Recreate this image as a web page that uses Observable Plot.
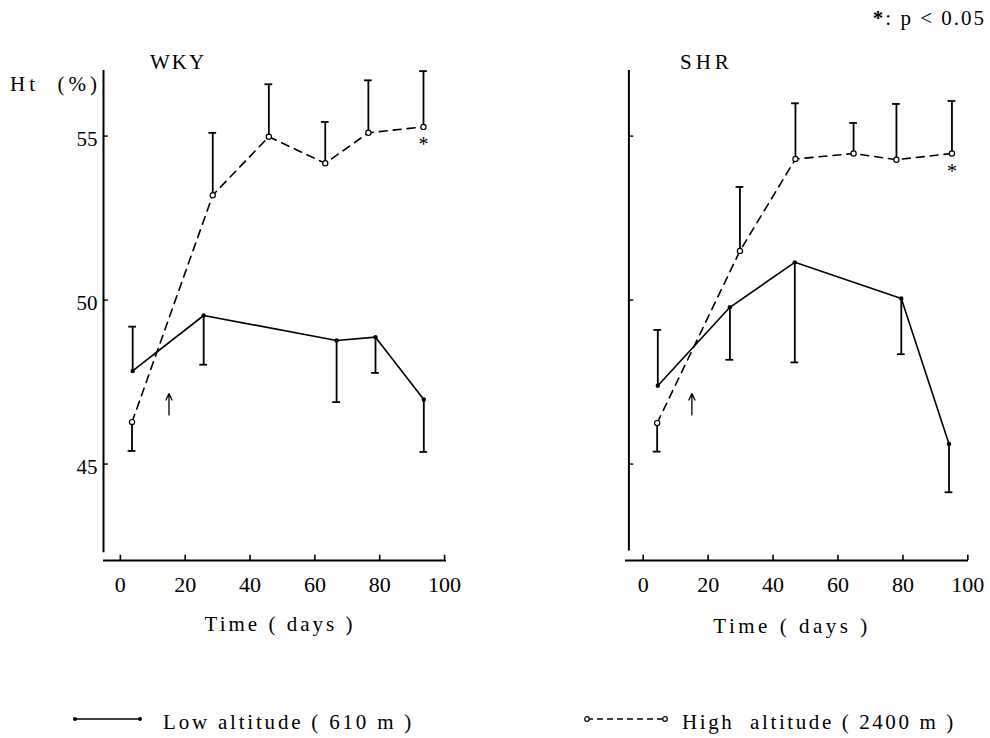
<!DOCTYPE html>
<html>
<head>
<meta charset="utf-8">
<script src="https://cdn.jsdelivr.net/npm/d3@7"></script>
<script src="https://cdn.jsdelivr.net/npm/@observablehq/plot@0.6"></script>
<style>
  html, body { margin: 0; padding: 0; background: #fff; }
  #root { position: relative; width: 990px; height: 738px; background: #fff; font-family: "Liberation Serif", "DejaVu Serif", serif; color: #000; overflow: hidden; }
  .abs { position: absolute; white-space: pre; line-height: 24px; }
  .panel { position: absolute; top: 0; }
  .sw { position: absolute; }
</style>
</head>
<body>
<div id="root">
  <div class="abs" style="right:4px; top:6px; font-size:21px; letter-spacing:2px;"><b>*</b>: p &lt; 0.05</div>
  <div class="abs" style="left:10px; top:72px; font-size:21px; letter-spacing:4px;">Ht  (%)</div>
  <div class="abs" style="left:150px; top:50px; font-size:21px; letter-spacing:2px;">WKY</div>
  <div class="abs" style="left:680px; top:50px; font-size:21px; letter-spacing:4px;">SHR</div>
  <div id="left" class="panel" style="left:0px;"></div>
  <div id="right" class="panel" style="left:520px;"></div>
  <div class="abs" style="left:280px; top:612px; transform:translateX(-50%); font-size:21px; letter-spacing:3px;">Time ( days )</div>
  <div class="abs" style="left:792px; top:614px; transform:translateX(-50%); font-size:21px; letter-spacing:3.5px;">Time ( days )</div>
  <svg class="sw" style="left:70px; top:713px;" width="76" height="12"><line x1="5" y1="6" x2="70" y2="6" stroke="#000" stroke-width="1.4"/><circle cx="5" cy="6" r="2" fill="#000"/><circle cx="70" cy="6" r="2" fill="#000"/></svg>
  <div class="abs" style="left:163px; top:710px; font-size:21px; letter-spacing:2.8px;">Low altitude ( 610 m )</div>
  <svg class="sw" style="left:582px; top:713px;" width="88" height="12"><line x1="5" y1="6" x2="83" y2="6" stroke="#000" stroke-width="1.4" stroke-dasharray="6,4"/><circle cx="5" cy="6" r="2.3" fill="#fff" stroke="#000" stroke-width="1.2"/><circle cx="83" cy="6" r="2.3" fill="#fff" stroke="#000" stroke-width="1.2"/></svg>
  <div class="abs" style="left:682px; top:710px; font-size:21px; letter-spacing:2.6px;">High  altitude ( 2400 m )</div>
</div>
<script>
// ---------- data ----------
const xTicks = [0, 20, 40, 60, 80, 100];
const yTicks = [45, 50, 55];

// WKY, low altitude (610 m)
const wkyLowDay  = [3.8, 25.7, 66.7, 78.7, 93.6];
const wkyLowHt   = [47.84, 49.53, 48.77, 48.87, 46.97];
const wkyLowSD   = [1.35, 1.50, 1.88, 1.09, 1.60];
const wkyLowDir  = [1, -1, -1, -1, -1];

// WKY, high altitude (2400 m)
const wkyHighDay = [3.6, 28.5, 45.8, 63.2, 76.5, 93.5];
const wkyHighHt  = [46.28, 53.20, 54.98, 54.17, 55.10, 55.28];
const wkyHighSD  = [0.88, 1.90, 1.60, 1.26, 1.60, 1.70];
const wkyHighDir = [-1, 1, 1, 1, 1, 1];
const wkyHighSig = [false, false, false, false, false, true];

// SHR, low altitude (610 m)
const shrLowDay  = [4.5, 26.7, 46.7, 79.5, 94.2];
const shrLowHt   = [47.39, 49.78, 51.15, 50.05, 45.61];
const shrLowSD   = [1.70, 1.60, 3.05, 1.70, 1.47];
const shrLowDir  = [1, -1, -1, -1, -1];

// SHR, high altitude (2400 m)
const shrHighDay = [4.3, 29.8, 46.9, 64.8, 78.0, 95.1];
const shrHighHt  = [46.25, 51.50, 54.30, 54.47, 54.28, 54.47];
const shrHighSD  = [0.87, 1.95, 1.70, 0.93, 1.70, 1.60];
const shrHighDir = [-1, 1, 1, 1, 1, 1];
const shrHighSig = [false, false, false, false, false, true];

// arrow: start of exposure
const arrowDay = [15];
const arrowFrom = 46.5, arrowTo = 47.15;

// ---------- build ----------
function rows(day, ht, sd, dir, sig) {
  return day.map((d, i) => ({day: d, ht: ht[i], sd: sd[i], dir: dir[i], sig: sig ? sig[i] : false}));
}

const Y_LO = 42.06, Y_HI = 57;
const FONT = "Liberation Serif";

function panel({low, high, xDomain, marginLeft, marginRight, yAxisAt, yAxisBottom, showYLabels}) {
  const axisLen = 1.5;
  const cap = 1.2;
  const marks = [
    Plot.ruleX([yAxisAt], {y1: yAxisBottom, y2: Y_HI, strokeWidth: 2}),
    Plot.ruleY([Y_LO], {x1: xDomain[0], x2: xDomain[1], strokeWidth: 2}),
    Plot.ruleY(yTicks, {y: d => d, x1: yAxisAt, x2: yAxisAt + axisLen, strokeWidth: 1.4}),
    Plot.ruleX(xTicks, {x: d => d, y1: Y_LO, y2: Y_LO + 0.16, strokeWidth: 1.6}),
    Plot.axisX({ticks: xTicks, tickSize: 0, tickPadding: 16, label: null, fontSize: 22, fontFamily: FONT}),
  ];
  if (showYLabels) {
    marks.push(Plot.axisY({ticks: yTicks, tickSize: 0, tickPadding: 6, label: null, fontSize: 21, fontFamily: FONT, dy: 3}));
  }
  for (const [data, dashed] of [[low, false], [high, true]]) {
    marks.push(
      Plot.ruleX(data, {x: "day", y1: "ht", y2: d => d.ht + d.dir * d.sd, strokeWidth: 1.8}),
      Plot.ruleY(data, {y: d => d.ht + d.dir * d.sd, x1: d => d.day - cap, x2: d => d.day + cap, strokeWidth: 1.8}),
      Plot.line(data, {x: "day", y: "ht", strokeWidth: 1.6, strokeDasharray: dashed ? "8,6" : null})
    );
  }
  marks.push(
    Plot.dot(low, {x: "day", y: "ht", r: 2.2, fill: "black"}),
    Plot.dot(high, {x: "day", y: "ht", r: 2.6, fill: "white", stroke: "black", strokeWidth: 1.2}),
    Plot.text(high.filter(d => d.sig), {x: "day", y: "ht", text: () => "*", dy: 18, fontSize: 20, fontFamily: FONT}),
    Plot.arrow(arrowDay, {x: d => d, y1: arrowFrom, y2: arrowTo, headLength: 9, headAngle: 50, strokeWidth: 1.3})
  );
  return Plot.plot({
    width: 470, height: 650,
    marginLeft, marginRight, marginTop: 70, marginBottom: 90,
    x: {domain: xDomain, axis: null},
    y: {domain: [Y_LO, Y_HI], axis: null},
    style: {background: "transparent", color: "black", fontFamily: FONT},
    marks
  });
}

document.getElementById("left").append(panel({
  low: rows(wkyLowDay, wkyLowHt, wkyLowSD, wkyLowDir),
  high: rows(wkyHighDay, wkyHighHt, wkyHighSD, wkyHighDir, wkyHighSig),
  xDomain: [-5.2, 100.6], marginLeft: 103, marginRight: 24,
  yAxisAt: -5.2, yAxisBottom: 42.3, showYLabels: true
}));

document.getElementById("right").append(panel({
  low: rows(shrLowDay, shrLowHt, shrLowSD, shrLowDir),
  high: rows(shrHighDay, shrHighHt, shrHighSD, shrHighDir, shrHighSig),
  xDomain: [-5.45, 100.2], marginLeft: 105, marginRight: 22,
  yAxisAt: -4.4, yAxisBottom: 42.35, showYLabels: false
}));
</script>
</body>
</html>
